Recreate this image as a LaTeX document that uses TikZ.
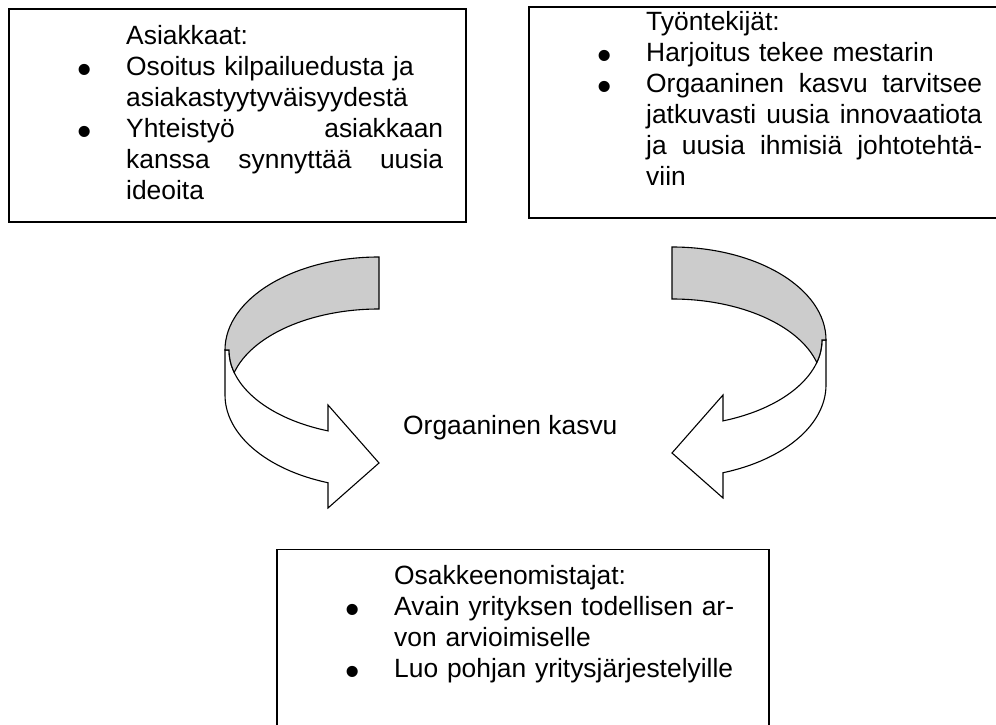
\documentclass[tikz,border=0pt]{standalone}
\usepackage{fontspec}
\setmainfont{Liberation Sans}
\definecolor{ribbon}{RGB}{204,204,204}
% bullet hanging to the left of an item
\newcommand\itemdot{\leavevmode\llap{\raisebox{-7.5pt}{\scalebox{1.55}{\textbullet}}\hspace{34pt}}}
% a line spread out to a full measure
\newcommand\fullline[2]{\leavevmode\hbox to #1{#2}}
\begin{document}
\begin{tikzpicture}[x=1pt,y=1pt,
  boxframe/.style={draw=black,line width=1.3pt},
  boxtext/.style={anchor=base west,inner sep=0pt,align=left,
    font=\fontsize{26.4}{31}\selectfont},
  plaintext/.style={anchor=base west,inner sep=0pt,
    font=\fontsize{26.4}{31}\selectfont},
  ribbonfront/.style={fill=white,draw=black,line width=1.1pt},
  ribbonback/.style={fill=ribbon,draw=black,line width=1.1pt},
  curvedarrow/.pic={
    % front face with the arrow head
    \draw[ribbonfront] (-154,0) -- (-154,-45)
      arc[start angle=180,end angle=250.67,x radius=154,y radius=93]
      -- (-51,-158) -- (0,-113) -- (-51,-55) -- (-51,-80.9)
      arc[start angle=250.12,end angle=180,x radius=150,y radius=86] -- cycle;
    % shaded inner side of the ribbon
    \draw[ribbonback] (0,93)
      arc[start angle=90,end angle=180,x radius=154,y radius=93] -- (-150,0)
      arc[start angle=180,end angle=195.17,x radius=150,y radius=86]
      arc[start angle=164.83,end angle=90,x radius=150,y radius=86] -- cycle;
  }]
\clip (0,0) rectangle (996,725);
\fill[white] (0,0) rectangle (996,725);

% frames
\draw[boxframe] (9,716) rectangle (466,503);
\draw[boxframe] (529,718) rectangle (1010,507);
\draw[boxframe] (277,175.5) rectangle (769,-10);

% customers
\node[boxtext,text width=320pt] (customers) at (126,680) {Asiakkaat:\\
\itemdot Osoitus kilpailuedusta ja\\
asiakastyytyväisyydestä\\
\itemdot\fullline{317pt}{Yhteistyö\hfill asiakkaan}\\
\fullline{317pt}{kanssa\hfill synnyttää\hfill uusia}\\
ideoita};

% employees
\node[boxtext,text width=340pt] (employees) at (646,694) {Työntekijät:\\
\itemdot Harjoitus tekee mestarin\\
\itemdot\fullline{336pt}{Orgaaninen\hfill kasvu\hfill tarvitsee}\\
\fullline{336pt}{jatkuvasti\hfill uusia\hfill innovaatiota}\\
\fullline{336pt}{ja\hfill uusia\hfill ihmisiä\hfill johtotehtä-}\\
viin};

% shareholders
\node[boxtext,text width=360pt] (shareholders) at (394,140) {Osakkeenomistajat:\\
\itemdot Avain yrityksen todellisen ar-\\
von arvioimiselle\\
\itemdot Luo pohjan yritysjärjestelyille};

% centre caption
\node[plaintext] (growth) at (403,290) {Orgaaninen kasvu};

% the two curved arrows
\pic at (379,375) {curvedarrow};
\pic[xscale=-1] at (672,385) {curvedarrow};
\end{tikzpicture}
\end{document}
